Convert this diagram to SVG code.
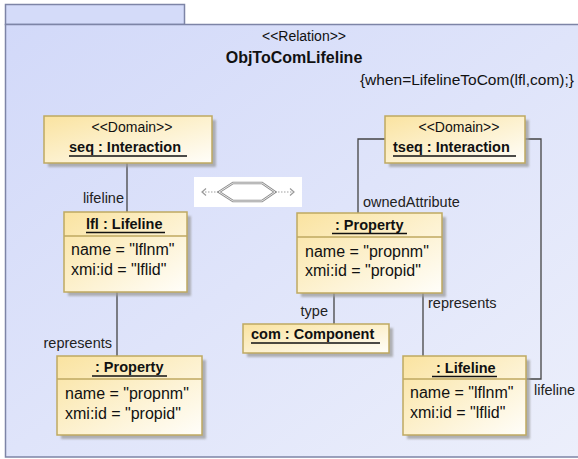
<svg xmlns="http://www.w3.org/2000/svg" width="578" height="459" viewBox="0 0 578 459">
  <defs>
    <linearGradient id="frameFill" x1="0" y1="0" x2="1" y2="1">
      <stop offset="0" stop-color="#d2d9f9"/>
      <stop offset="1" stop-color="#eceffb"/>
    </linearGradient>
    <linearGradient id="nodeFill" x1="0" y1="0" x2="1" y2="1">
      <stop offset="0" stop-color="#fae3a0"/>
      <stop offset="1" stop-color="#fffefa"/>
    </linearGradient>
    <filter id="soft" x="-10%" y="-10%" width="130%" height="140%">
      <feGaussianBlur stdDeviation="1"/>
    </filter>
    <marker id="chevL" viewBox="0 0 6 8" refX="1" refY="4" markerWidth="6" markerHeight="8" orient="auto" markerUnits="userSpaceOnUse">
      <path d="M5,0.5 L1,4 L5,7.5" fill="none" stroke="#9a9a9a" stroke-width="1.2"/>
    </marker>
    <marker id="chevR" viewBox="0 0 6 8" refX="5" refY="4" markerWidth="6" markerHeight="8" orient="auto" markerUnits="userSpaceOnUse">
      <path d="M1,0.5 L5,4 L1,7.5" fill="none" stroke="#9a9a9a" stroke-width="1.2"/>
    </marker>
  </defs>
  <style>
    text { font-family: "Liberation Sans", Arial, sans-serif; fill: #111; }
    .stereo { font-size: 14px; }
    .name { font-size: 14.5px; font-weight: bold; }
    .attr { font-size: 16px; }
    .lbl { font-size: 14.5px; fill: #222; }
    .box { fill: url(#nodeFill); stroke: #bfa961; stroke-width: 1.5; }
    .shadow { fill: #9c9c9c; opacity: 0.75; filter: url(#soft); }
    .sep { stroke: #bfa961; stroke-width: 1.5; }
    .ul { stroke: #111; stroke-width: 1.3; }
    .conn { fill: none; stroke: #444; stroke-width: 1.3; }
  </style>

  <!-- relation frame with its tab -->
  <g id="frame">
    <rect x="5.5" y="4.5" width="179" height="20" fill="#d4dbf9" stroke="#7d84a6" stroke-width="1.5"/>
    <rect x="5.5" y="24.5" width="582" height="432.5" fill="url(#frameFill)" stroke="#7d84a6" stroke-width="1.5"/>
    <text x="304" y="41" class="stereo" text-anchor="middle">&lt;&lt;Relation&gt;&gt;</text>
    <text x="294" y="63" font-size="16px" font-weight="bold" text-anchor="middle">ObjToComLifeline</text>
    <text x="574" y="85" font-size="15.5px" text-anchor="end">{when=LifelineToCom(lfl,com);}</text>
  </g>

  <!-- direction widget -->
  <g id="direction">
    <rect x="194" y="177" width="108" height="30" fill="#ffffff"/>
    <line x1="202" y1="192" x2="219" y2="192" stroke="#a0a0a0" stroke-width="1.2" stroke-dasharray="1.5,1.5" marker-start="url(#chevL)"/>
    <line x1="275" y1="192" x2="294" y2="192" stroke="#a0a0a0" stroke-width="1.2" stroke-dasharray="1.5,1.5" marker-end="url(#chevR)"/>
    <polygon points="219,192 233,183 262,183 275,192 262,201 233,201" fill="#ffffff" stroke="#8c8c8c" stroke-width="2.6"/>
    <polygon points="219,192 233,183 262,183 275,192 262,201 233,201" fill="none" stroke="#ffffff" stroke-width="0.8"/>
  </g>

  <!-- connectors -->
  <g id="connectors">
    <path class="conn" d="M127,163 V212"/>
    <path class="conn" d="M117,292 V356"/>
    <path class="conn" d="M385,139 H358 V213"/>
    <path class="conn" d="M334,293 V324"/>
    <path class="conn" d="M423,293 V356"/>
    <path class="conn" d="M525,139 H541 V379 H526"/>
    <text class="lbl" x="124" y="203" text-anchor="end">lifeline</text>
    <text class="lbl" x="112" y="348" text-anchor="end">represents</text>
    <text class="lbl" x="363" y="207">ownedAttribute</text>
    <text class="lbl" x="328" y="316" text-anchor="end">type</text>
    <text class="lbl" x="428" y="308">represents</text>
    <text class="lbl" x="534" y="395">lifeline</text>
  </g>

  <g id="seq">
    <rect class="shadow" x="48" y="120" width="168" height="47"/>
    <rect class="box" x="44" y="116" width="168" height="47"/>
    <text class="stereo" x="132" y="132" text-anchor="middle">&lt;&lt;Domain&gt;&gt;</text>
    <text class="name" x="69" y="152">seq : Interaction</text>
    <line class="ul" x1="69" y1="156" x2="187" y2="156"/>
  </g>

  <g id="lfl">
    <rect class="shadow" x="68" y="216" width="123" height="80"/>
    <rect class="box" x="64" y="212" width="123" height="80"/>
    <line class="sep" x1="64" y1="236" x2="187" y2="236"/>
    <text class="name" x="86" y="229">lfl : Lifeline</text>
    <line class="ul" x1="86" y1="232.5" x2="165" y2="232.5"/>
    <text class="attr" x="71" y="255">name = "lflnm"</text>
    <text class="attr" x="71" y="275">xmi:id = "lflid"</text>
  </g>

  <g id="propL">
    <rect class="shadow" x="61" y="360" width="145" height="79"/>
    <rect class="box" x="57" y="356" width="145" height="79"/>
    <line class="sep" x1="57" y1="379" x2="202" y2="379"/>
    <text class="name" x="95" y="372">: Property</text>
    <line class="ul" x1="92" y1="376" x2="167" y2="376"/>
    <text class="attr" x="65" y="399">name = "propnm"</text>
    <text class="attr" x="65" y="419">xmi:id = "propid"</text>
  </g>

  <g id="tseq">
    <rect class="shadow" x="389" y="120" width="140" height="47"/>
    <rect class="box" x="385" y="116" width="140" height="47"/>
    <text class="stereo" x="459" y="132" text-anchor="middle">&lt;&lt;Domain&gt;&gt;</text>
    <text class="name" x="393" y="152">tseq : Interaction</text>
    <line class="ul" x1="393" y1="156" x2="516" y2="156"/>
  </g>

  <g id="propR">
    <rect class="shadow" x="301" y="217" width="145" height="80"/>
    <rect class="box" x="297" y="213" width="145" height="80"/>
    <line class="sep" x1="297" y1="237" x2="442" y2="237"/>
    <text class="name" x="335" y="230">: Property</text>
    <line class="ul" x1="332" y1="233.5" x2="407" y2="233.5"/>
    <text class="attr" x="305" y="257">name = "propnm"</text>
    <text class="attr" x="305" y="276">xmi:id = "propid"</text>
  </g>

  <g id="com">
    <rect class="shadow" x="247" y="328" width="146" height="29"/>
    <rect class="box" x="243" y="324" width="146" height="29"/>
    <text class="name" x="251" y="339">com : Component</text>
    <line class="ul" x1="251" y1="343" x2="380" y2="343"/>
  </g>

  <g id="lifeR">
    <rect class="shadow" x="407" y="360" width="123" height="79"/>
    <rect class="box" x="403" y="356" width="123" height="79"/>
    <line class="sep" x1="403" y1="379" x2="526" y2="379"/>
    <text class="name" x="436" y="373">: Lifeline</text>
    <line class="ul" x1="432" y1="376.5" x2="497" y2="376.5"/>
    <text class="attr" x="410" y="398">name = "lflnm"</text>
    <text class="attr" x="410" y="418">xmi:id = "lflid"</text>
  </g>
</svg>
